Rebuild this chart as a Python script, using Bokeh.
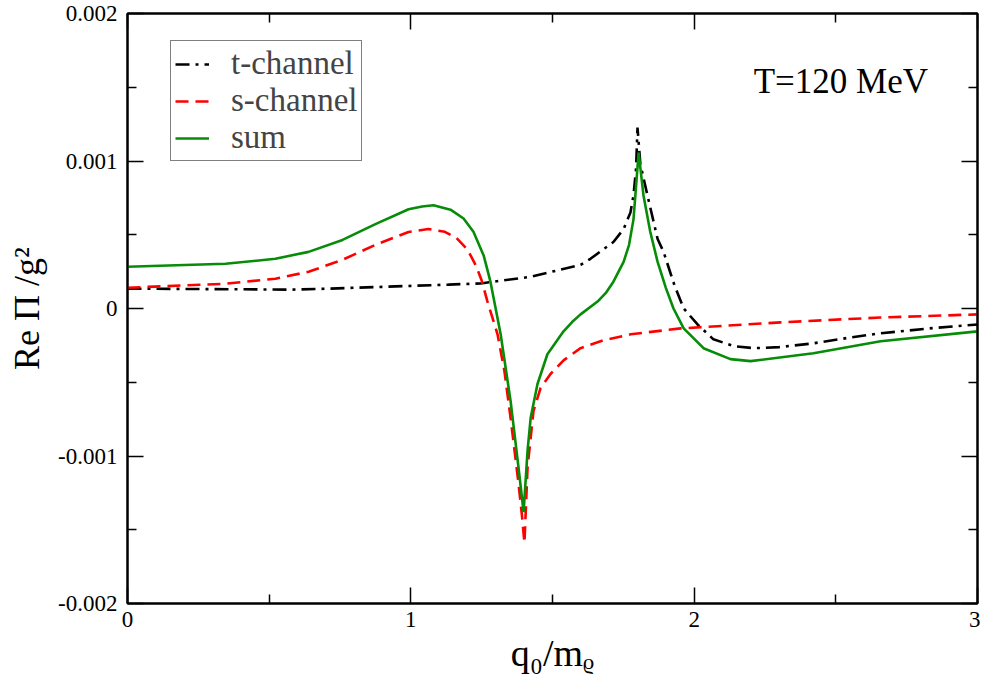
from bokeh.plotting import figure
from bokeh.models import (ColumnDataSource, Legend, LegendItem, LinearAxis, FixedTicker,
                          Label, Range1d)
from bokeh.embed import file_html
from bokeh.resources import INLINE

# ---- data ----
t_x = [0.0, 0.582, 0.717, 1.133, 1.246, 1.423, 1.599, 1.634, 1.715, 1.751, 1.775, 1.786,
       1.795, 1.800, 1.810, 1.835, 1.871, 1.892, 1.930, 1.963, 2.012, 2.068, 2.140, 2.210,
       2.300, 2.421, 2.540, 2.658, 2.830, 3.0]
t_y = [0.000135, 0.000128, 0.000135, 0.000162, 0.000170, 0.000215, 0.000296, 0.000337,
       0.000451, 0.000539, 0.000650, 0.000768, 0.000950, 0.001226, 0.000980, 0.000768,
       0.000471, 0.000384, 0.000160, 0.000000, -0.000108, -0.000209, -0.000255, -0.000269,
       -0.000262, -0.000236, -0.000200, -0.000168, -0.000135, -0.000108]

s_x = [0.0, 0.346, 0.522, 0.639, 0.759, 0.875, 0.992, 1.062, 1.120, 1.160, 1.200, 1.230,
       1.250, 1.270, 1.306, 1.330, 1.352, 1.380, 1.392, 1.401, 1.412, 1.433, 1.458, 1.493,
       1.540, 1.599, 1.680, 1.776, 1.952, 2.305, 2.658, 3.0]
s_y = [0.000141, 0.000168, 0.000202, 0.000249, 0.000330, 0.000431, 0.000519, 0.000539,
       0.000520, 0.000480, 0.000400, 0.000290, 0.000190, 0.000050, -0.000175, -0.000420,
       -0.000741, -0.001185, -0.001400, -0.001589, -0.001077, -0.000694, -0.000539,
       -0.000444, -0.000350, -0.000269, -0.000215, -0.000175, -0.000135, -0.000094,
       -0.000061, -0.000040]

sum_x = [0.0, 0.346, 0.522, 0.639, 0.759, 0.875, 0.992, 1.040, 1.080, 1.140, 1.186, 1.221,
         1.257, 1.281, 1.317, 1.352, 1.380, 1.398, 1.412, 1.423, 1.447, 1.482, 1.539, 1.570,
         1.599, 1.659, 1.690, 1.715, 1.751, 1.770, 1.786, 1.804, 1.821, 1.845, 1.871, 1.900,
         1.927, 1.963, 2.033, 2.128, 2.199, 2.421, 2.658, 3.0]
sum_y = [0.000283, 0.000303, 0.000337, 0.000384, 0.000465, 0.000572, 0.000673, 0.000692,
         0.000700, 0.000670, 0.000610, 0.000520, 0.000360, 0.000182, -0.000175, -0.000626,
         -0.001077, -0.001380, -0.000963, -0.000741, -0.000512, -0.000310, -0.000155,
         -0.000090, -0.000040, 0.000047, 0.000110, 0.000182, 0.000316, 0.000430, 0.000606,
         0.001057, 0.000768, 0.000520, 0.000316, 0.000140, 0.000000, -0.000135, -0.000269,
         -0.000343, -0.000357, -0.000303, -0.000222, -0.000155]

x_ticks = [0, 1, 2, 3]
x_tick_labels = ["0", "1", "2", "3"]
x_minor = [0.5, 1.5, 2.5]
y_ticks = [-0.002, -0.001, 0, 0.001, 0.002]
y_tick_labels = ["-0.002", "-0.001", "0", "0.001", "0.002"]
y_minor = [-0.0015, -0.0005, 0.0005, 0.0015]

series_names = ["t-channel", "s-channel", "sum"]

FONT = "Liberation Serif"
GREEN = "#078c07"

p = figure(width=980, height=676, output_backend="svg", toolbar_location=None,
           x_range=Range1d(0, 3), y_range=Range1d(-0.002, 0.002),
           min_border_left=127, min_border_right=3, min_border_top=13, min_border_bottom=72)
p.background_fill_color = "white"
p.border_fill_color = "white"
p.grid.visible = False
p.outline_line_color = "black"
p.outline_line_width = 2

src_t = ColumnDataSource(dict(x=t_x, y=t_y))
src_s = ColumnDataSource(dict(x=s_x, y=s_y))
src_sum = ColumnDataSource(dict(x=sum_x, y=sum_y))

r_t = p.line("x", "y", source=src_t, line_color="black", line_width=2.6, line_dash="14 6 3 6")
r_s = p.line("x", "y", source=src_s, line_color="#ff0000", line_width=2.6, line_dash="13 7")
r_sum = p.line("x", "y", source=src_sum, line_color=GREEN, line_width=2.6)

xt = FixedTicker(ticks=x_ticks, minor_ticks=x_minor)
yt = FixedTicker(ticks=y_ticks, minor_ticks=y_minor)

def style(ax):
    ax.axis_line_color = "black"
    ax.axis_line_width = 2
    ax.major_tick_in = 16
    ax.major_tick_out = 0
    ax.minor_tick_in = 9
    ax.minor_tick_out = 0
    ax.major_tick_line_width = 1.5
    ax.minor_tick_line_width = 1.5
    ax.major_label_text_font = FONT
    ax.major_label_text_font_size = "23px"
    ax.major_label_text_color = "black"
    ax.axis_label_text_font = FONT
    ax.axis_label_text_font_style = "normal"
    ax.axis_label_text_color = "black"

xa = p.xaxis[0]
xa.ticker = xt
xa.major_label_overrides = dict(zip(x_ticks, x_tick_labels))
style(xa)
xa.major_label_standoff = 8
xa.axis_label = "q₀/mᵨ"
xa.axis_label_text_font_size = "38px"
xa.axis_label_standoff = 2

ya = p.yaxis[0]
ya.ticker = yt
ya.major_label_overrides = dict(zip(y_ticks, y_tick_labels))
style(ya)
ya.major_label_standoff = 10
ya.axis_label = "Re Π /g²"
ya.axis_label_text_font_size = "36px"
ya.axis_label_standoff = 8

# mirrored tick marks on the top and right edges, without labels
top = LinearAxis(ticker=xt, major_label_overrides={t: "" for t in x_ticks})
style(top)
top.major_label_standoff = 0
p.add_layout(top, "above")
right = LinearAxis(ticker=yt, major_label_overrides={t: "" for t in y_ticks})
style(right)
right.major_label_standoff = 0
p.add_layout(right, "right")

legend = Legend(items=[LegendItem(label=n, renderers=[r]) for n, r in
                       zip(series_names, [r_t, r_s, r_sum])],
                location=(43, 442))
legend.label_text_font = FONT
legend.label_text_font_size = "33px"
legend.label_height = 28
legend.glyph_height = 28
legend.glyph_width = 34
legend.label_standoff = 22
legend.spacing = 0
legend.padding = 4
legend.margin = 0
legend.border_line_color = "black"
legend.border_line_width = 1.5
legend.background_fill_alpha = 1.0
p.add_layout(legend)

p.add_layout(Label(x=2.21, y=0.00154, text="T=120 MeV", text_font=FONT,
                   text_font_size="35px", text_baseline="middle", text_color="black"))

open("out.html", "w").write(file_html(p, INLINE))
